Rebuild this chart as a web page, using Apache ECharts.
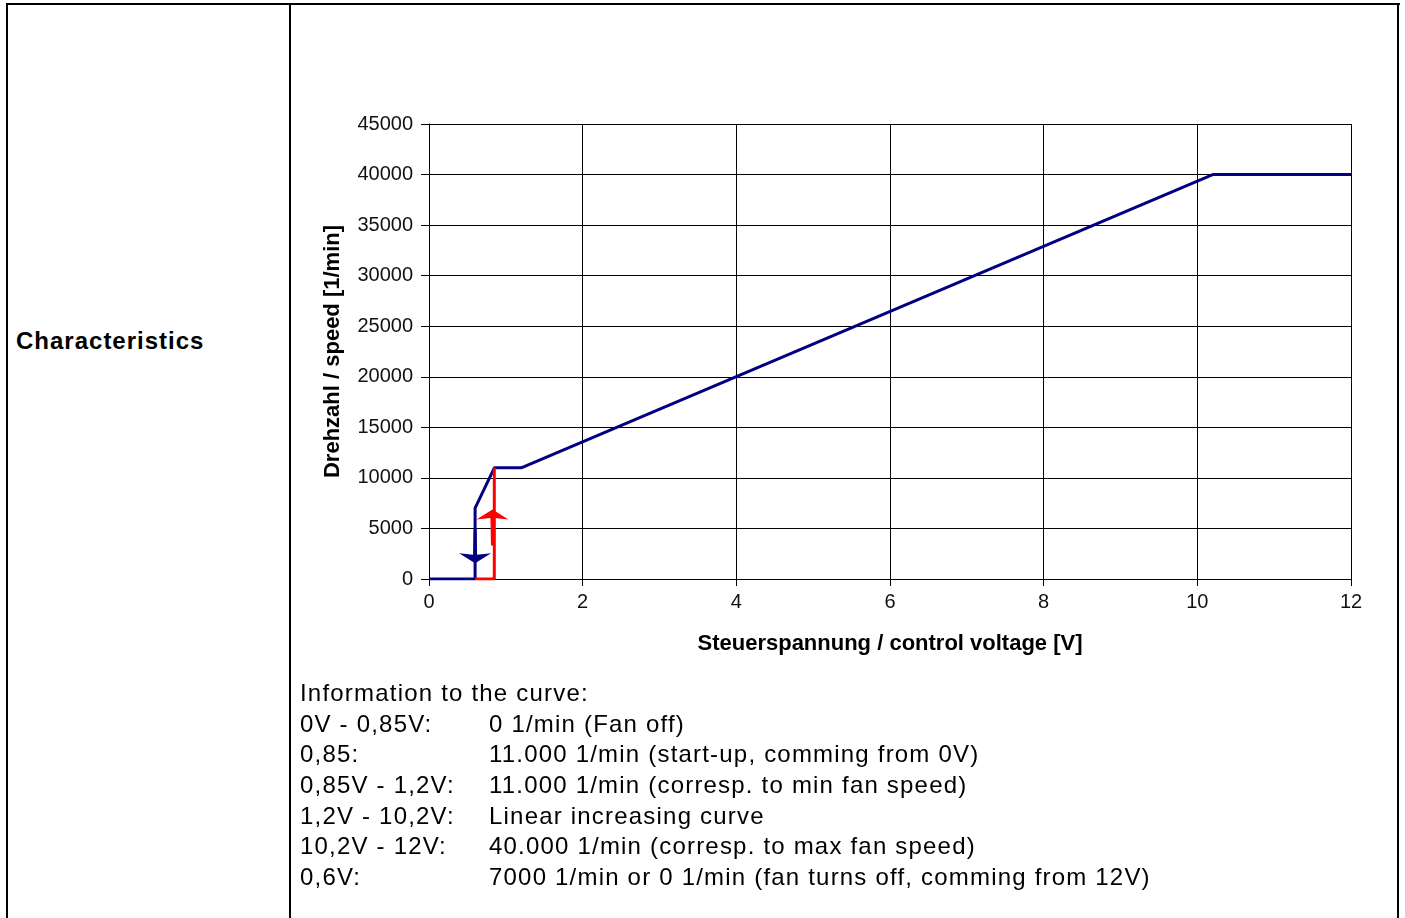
<!DOCTYPE html>
<html>
<head>
<meta charset="utf-8">
<script src="https://cdn.jsdelivr.net/npm/echarts@6/dist/echarts.min.js"></script>
<style>
  html, body { margin: 0; padding: 0; background: #fff; }
  body { width: 1405px; height: 918px; position: relative; overflow: hidden; font-family: "Liberation Sans", Arial, sans-serif; }
  .ln { position: absolute; background: #000; }
  #chart { position: absolute; left: 0; top: 0; width: 1405px; height: 918px; }
  .label { position: absolute; left: 16px; top: 327px; font-weight: bold; font-size: 24px; letter-spacing: 1px; color: #000; }
  .info { position: absolute; left: 300px; top: 678px; font-size: 24px; letter-spacing: 1.2px; line-height: 30.7px; color: #000; }
  .info .row { white-space: nowrap; position: relative; height: 30.7px; }
  .info .c2 { position: absolute; left: 189px; top: 0; }
</style>
</head>
<body>
<div class="ln" style="left:6px;top:3px;width:1394px;height:2px;"></div>
<div class="ln" style="left:6px;top:3px;width:2px;height:915px;"></div>
<div class="ln" style="left:289px;top:3px;width:2px;height:915px;"></div>
<div class="ln" style="left:1397px;top:3px;width:2px;height:915px;"></div>
<div class="label">Characteristics</div>
<div id="chart"></div>
<div class="info" id="info"></div>
<script>
// ---- data ----
var xTicks = [0, 2, 4, 6, 8, 10, 12];
var yTicks = [0, 5000, 10000, 15000, 20000, 25000, 30000, 35000, 40000, 45000];
var blueX = [0, 0.6, 0.6, 0.85, 1.2, 10.2, 12];
var blueY = [0, 0, 7000, 11000, 11000, 40000, 40000];
var redX = [0.6, 0.85, 0.85];
var redY = [0, 0, 11000];
var upArrow = [0.826, 5100];     // red arrow: start-up direction
var downArrow = [0.6, 3250];     // blue arrow: turning off direction
var infoTitle = "Information to the curve:";
var infoLeft = ["0V - 0,85V:", "0,85:", "0,85V - 1,2V:", "1,2V - 10,2V:", "10,2V - 12V:", "0,6V:"];
var infoRight = ["0 1/min (Fan off)", "11.000 1/min (start-up, comming from 0V)", "11.000 1/min (corresp. to min fan speed)", "Linear increasing curve", "40.000 1/min (corresp. to max fan speed)", "7000 1/min or 0 1/min (fan turns off, comming from 12V)"];

// ---- info text ----
var info = document.getElementById('info');
var t = document.createElement('div'); t.className = 'row'; t.textContent = infoTitle; info.appendChild(t);
for (var i = 0; i < infoLeft.length; i++) {
  var r = document.createElement('div'); r.className = 'row';
  var a = document.createElement('span'); a.textContent = infoLeft[i];
  var b = document.createElement('span'); b.className = 'c2'; b.textContent = infoRight[i];
  r.appendChild(a); r.appendChild(b); info.appendChild(r);
}

function zip(xs, ys) { return xs.map(function (x, i) { return [x, ys[i]]; }); }

var chart = echarts.init(document.getElementById('chart'), null, { renderer: 'canvas' });
var font = '"Liberation Sans", Arial, sans-serif';
chart.setOption({
  animation: false,
  backgroundColor: 'transparent',
  grid: { left: 429, top: 124, width: 922, height: 455, containLabel: false },
  xAxis: {
    type: 'value', min: xTicks[0], max: xTicks[xTicks.length - 1], interval: 2,
    name: 'Steuerspannung / control voltage [V]', nameLocation: 'middle', nameGap: 54,
    nameTextStyle: { fontFamily: font, fontWeight: 'bold', fontSize: 22, color: '#000' },
    axisLine: { show: true, lineStyle: { color: '#000', width: 1 } },
    axisTick: { show: true, length: 7, lineStyle: { color: '#000' } },
    axisLabel: { fontFamily: font, fontSize: 20, color: '#111', margin: 13, formatter: function (v) { return String(v); } },
    splitLine: { show: true, lineStyle: { color: '#000', width: 1 } }
  },
  yAxis: {
    type: 'value', min: yTicks[0], max: yTicks[yTicks.length - 1], interval: 5000,
    name: 'Drehzahl / speed [1/min]', nameLocation: 'middle', nameGap: 85, nameRotate: 90,
    nameTextStyle: { fontFamily: font, fontWeight: 'bold', fontSize: 22, color: '#000' },
    axisLine: { show: true, lineStyle: { color: '#000', width: 1 } },
    axisTick: { show: true, length: 8, lineStyle: { color: '#000' } },
    axisLabel: { fontFamily: font, fontSize: 20, color: '#111', margin: 16, formatter: function (v) { return String(v); } },
    splitLine: { show: true, lineStyle: { color: '#000', width: 1 } }
  },
  series: [
    {
      type: 'line', data: zip(blueX, blueY), showSymbol: false, symbol: 'none',
      lineStyle: { color: '#000080', width: 3 }, z: 3
    },
    {
      type: 'line', data: zip(redX, redY), showSymbol: false, symbol: 'none',
      lineStyle: { color: '#ff0000', width: 3 }, z: 4
    },
    {
      type: 'scatter', data: [upArrow], z: 5,
      symbol: 'path://M16,0 L32,10 L18,8.5 L17.5,36 L14.5,36 L14,8.5 L0,10 Z',
      symbolSize: [32, 36], itemStyle: { color: '#ff0000', opacity: 1 }
    },
    {
      type: 'scatter', data: [downArrow], z: 6,
      symbol: 'path://M16,34 L32,24 L18,25.5 L17.5,0 L14.5,0 L14,25.5 L0,24 Z',
      symbolSize: [32, 34], itemStyle: { color: '#000080', opacity: 1 }
    }
  ]
});
</script>
</body>
</html>
